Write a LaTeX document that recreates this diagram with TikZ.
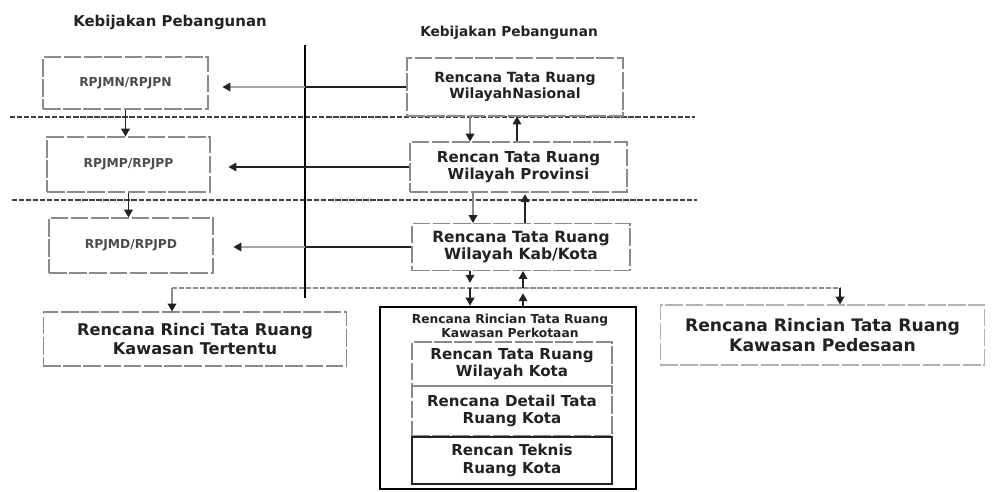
\documentclass[tikz,border=0pt]{standalone}
\usepackage{fontspec}
\setmainfont{DejaVu Sans}
\usetikzlibrary{arrows.meta}
\definecolor{ink}{HTML}{222222}
\definecolor{faint}{HTML}{8A8A8A}
\tikzset{
  px/.style={x=0.02cm,y=-0.02cm},
  box/.style={draw=faint,line width=0.6pt,dash pattern=on 10pt off 1.5pt,inner sep=0pt,align=center,text=ink,font=\bfseries},
  rbox/.style={box,text=black!70},
  arr/.style={-{Triangle[width=5pt,length=4.5pt,color=ink]},line width=0.6pt,draw=ink},
  farr/.style={arr,draw=faint},
  fline/.style={draw=black!35,line width=0.6pt},
  sep/.style={draw=black!75,line width=0.9pt,dash pattern=on 3pt off 1pt},
  ttl/.style={font=\bfseries\fontsize{8.5}{10}\selectfont,text=ink}
}
\begin{document}
\begin{tikzpicture}[px]
\useasboundingbox (0,0) rectangle (992,491);
% titles
\node[ttl] (t1) at (170,22) {Kebijakan Pebangunan};
\node[ttl,font=\bfseries\fontsize{7.8}{9}\selectfont] (t2) at (509,33) {Kebijakan Pebangunan};
% separators
\coordinate (s1a) at (10,117); \coordinate (s1b) at (695,117);
\coordinate (s2a) at (12,200); \coordinate (s2b) at (697,200);
\draw[sep] (s1a) -- (s1b);
\draw[sep] (s2a) -- (s2b);
\coordinate (va) at (305,45); \coordinate (vb) at (305,298);
\draw[line width=1.4pt,black] (va) -- (vb);
% left boxes
\node[rbox,minimum width=3.30cm,minimum height=1.04cm,font=\bfseries\fontsize{7}{8}\selectfont] (n1) at (125.5,83) {RPJMN/RPJPN};
\node[rbox,minimum width=3.26cm,minimum height=1.10cm,font=\bfseries\fontsize{7}{8}\selectfont] (n2) at (128.5,164.5) {RPJMP/RPJPP};
\node[rbox,minimum width=3.28cm,minimum height=1.10cm,font=\bfseries\fontsize{7}{8}\selectfont] (n3) at (131,245.5) {RPJMD/RPJPD};
% right boxes
\node[box,minimum width=4.32cm,minimum height=1.16cm,font=\bfseries\fontsize{8}{9.5}\selectfont] (nas) at (515,87) {Rencana Tata Ruang\\WilayahNasional};
\node[box,minimum width=4.34cm,minimum height=1.00cm,font=\bfseries\fontsize{8.6}{10}\selectfont] (prov) at (518.5,167) {Rencan Tata Ruang\\Wilayah Provinsi};
\node[box,minimum width=4.36cm,minimum height=0.94cm,font=\bfseries\fontsize{8.8}{10}\selectfont] (kab) at (521,247) {Rencana Tata Ruang\\Wilayah Kab/Kota};
% bottom boxes
\node[box,minimum width=6.08cm,minimum height=1.08cm,font=\bfseries\fontsize{9.2}{11}\selectfont] (rinci) at (195,339) {Rencana Rinci Tata Ruang\\Kawasan Tertentu};
\node[draw=black,line width=1.6pt,minimum width=5.12cm,minimum height=3.64cm,inner sep=0pt] (perk) at (508,398) {};
\node[font=\bfseries\fontsize{7}{8}\selectfont,text=ink,align=center] (perkt) at (510,326) {Rencana Rincian Tata Ruang\\Kawasan Perkotaan};
\node[box,minimum width=4.0cm,minimum height=0.88cm,font=\bfseries\fontsize{8.6}{10}\selectfont] (k1) at (512,364) {Rencan Tata Ruang\\Wilayah Kota};
\node[box,minimum width=4.0cm,minimum height=1.0cm,font=\bfseries\fontsize{8.6}{10}\selectfont] (k2) at (512,411) {Rencana Detail Tata\\Ruang Kota};
\node[box,draw=ink,solid,minimum width=4.0cm,minimum height=0.94cm,font=\bfseries\fontsize{8.6}{10}\selectfont] (k3) at (512,460.5) {Rencan Teknis\\Ruang Kota};
\node[box,draw=black!30,minimum width=6.5cm,minimum height=1.2cm,font=\bfseries\fontsize{9.8}{11.5}\selectfont] (ped) at (822.5,335) {Rencana Rincian Tata Ruang\\Kawasan Pedesaan};
% horizontal arrows to left (dark near the source, faint past the divider)
\draw[fline] (nas.west) -- (nas.west -| va);
\draw[farr,draw=black!35,shorten >=0.28cm] (nas.west -| va) -- (nas.west -| n1.east);
\draw[line width=0.6pt,ink] (nas.west) -- (nas.west -| va);
\draw[arr,shorten >=0.36cm] (prov.west) -- (prov.west -| n2.east);
\draw[line width=0.6pt,ink] (kab.west) -- (kab.west -| va);
\draw[farr,draw=black!35,shorten >=0.40cm] (kab.west -| va) -- (kab.west -| n3.east);
% left vertical arrows
\draw[arr] (n1.south) -- (n1.south |- n2.north);
\draw[arr] (n2.south) -- (n2.south |- n3.north);
% between right boxes
\coordinate (d1) at (470,0); \coordinate (u1) at (517,0);
\draw[farr] (nas.south -| d1) -- (prov.north -| d1);
\draw[arr] (prov.north -| u1) -- (nas.south -| u1);
\coordinate (d2) at (473,0); \coordinate (u2) at (525,0);
\draw[farr] (prov.south -| d2) -- (kab.north -| d2);
\draw[arr,shorten >=1pt] (kab.north -| u2) -- (prov.south -| u2);
% distribution
\coordinate (hl) at (172,288); \coordinate (hr) at (840,288);
\coordinate (m1) at (470,288); \coordinate (m2) at (523,288);
\draw[sep,draw=black!45,line width=0.6pt] (hl) -- (hr);
\draw[farr] (hl) -- (hl |- rinci.north);
\draw[arr] (hr) -- (hr |- ped.north);
\draw[arr,shorten >=3pt] (kab.south -| m1) -- (m1);
\draw[arr] (m1) -- (m1 |- perk.north);
\draw[arr,shorten >=3pt] (perk.north -| m2) -- (m2);
\draw[arr] (m2) -- (m2 |- kab.south);
\end{tikzpicture}
\end{document}
